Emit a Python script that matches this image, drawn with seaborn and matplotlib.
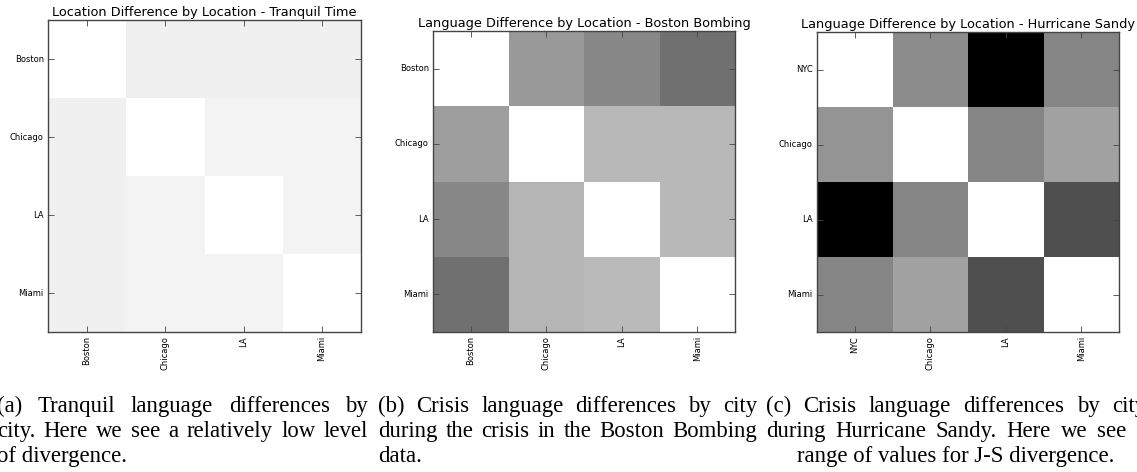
import numpy as np
import pandas as pd
import matplotlib
matplotlib.use("Agg")
import matplotlib.pyplot as plt
import seaborn as sns

# ---------------- data ----------------
cities_a = ["Boston", "Chicago", "LA", "Miami"]
cities_b = ["Boston", "Chicago", "LA", "Miami"]
cities_c = ["NYC", "Chicago", "LA", "Miami"]

tranquil = [
    [0.00, 0.06, 0.06, 0.06],
    [0.06, 0.00, 0.05, 0.05],
    [0.06, 0.05, 0.00, 0.05],
    [0.06, 0.05, 0.05, 0.00],
]
boston_bombing = [
    [0.00, 0.40, 0.47, 0.56],
    [0.38, 0.00, 0.28, 0.28],
    [0.47, 0.29, 0.00, 0.28],
    [0.56, 0.29, 0.27, 0.00],
]
hurricane_sandy = [
    [0.00, 0.45, 1.00, 0.48],
    [0.42, 0.00, 0.48, 0.37],
    [1.00, 0.48, 0.00, 0.69],
    [0.48, 0.37, 0.69, 0.00],
]

titles = [
    "Location Difference by Location - Tranquil Time",
    "Language Difference by Location - Boston Bombing",
    "Language Difference by Location - Hurricane Sandy",
]

captions = [
    ["(a)  Tranquil  language  differences  by",
     "city.  Here we see a relatively low level",
     "of divergence."],
    ["(b)  Crisis language differences by city",
     "during the crisis in the Boston Bombing",
     "data."],
    ["(c)  Crisis language differences by city",
     "during Hurricane Sandy. Here we see a",
     "range of values for J-S divergence."],
]

# ---------------- layout ----------------
W, H = 1137, 472
plt.rcParams.update({
    "font.family": "DejaVu Sans",
    "xtick.direction": "in",
    "ytick.direction": "in",
    "xtick.top": True,
    "ytick.right": True,
    "xtick.major.size": 4,
    "ytick.major.size": 4,
    "xtick.major.width": 0.6,
    "ytick.major.width": 0.6,
    "xtick.color": "#444444",
    "ytick.color": "#444444",
    "xtick.labelcolor": "black",
    "ytick.labelcolor": "black",
    "axes.edgecolor": "#444444",
    "axes.linewidth": 1.0,
})

fig = plt.figure(figsize=(W / 100, H / 100), dpi=100)

# axes boxes in pixels: (left, top, right, bottom)
boxes = [(48, 20, 361, 332), (433, 31, 735, 332), (817, 32, 1119, 332)]
datasets = [(tranquil, cities_a), (boston_bombing, cities_b), (hurricane_sandy, cities_c)]

for (l, t, r, b), (vals, labels), title in zip(boxes, datasets, titles):
    ax = fig.add_axes([l / W, 1 - b / H, (r - l) / W, (b - t) / H])
    df = pd.DataFrame(vals, index=labels, columns=labels)
    sns.heatmap(df, ax=ax, cmap="gray_r", vmin=0, vmax=1, cbar=False,
                square=False, linewidths=0)
    for side in ["left", "right", "top", "bottom"]:
        ax.spines[side].set_visible(True)
        ax.spines[side].set_color("#444444")
        ax.spines[side].set_linewidth(1.0)
    ax.tick_params(axis="both", which="major", direction="in", length=4,
                   top=True, right=True, labelsize=6, pad=3)
    ax.set_xticklabels(labels, rotation=90, fontsize=6)
    ax.set_yticklabels(labels, rotation=0, fontsize=6)
    ax.set_xlabel("")
    ax.set_ylabel("")
    ax.set_title(title, fontsize=9.3, pad=3)

# ---------------- captions (justified) ----------------
cap_font = dict(family="Liberation Serif", size=16.4)
col_bounds = [(-3, 368), (378, 757), (766, 1146)]
baselines = [412, 437, 462]
last_line_x = [-3, 378, 797]

renderer = fig.canvas.get_renderer()


def word_width(w):
    t = fig.text(0, 0, w, **cap_font)
    wd = t.get_window_extent(renderer).width
    t.remove()
    return wd


for ci, lines in enumerate(captions):
    x0, x1 = col_bounds[ci]
    for li, line in enumerate(lines):
        y = 1 - baselines[li] / H
        if li == len(lines) - 1:
            fig.text(last_line_x[ci] / W, y, line, va="baseline", ha="left", **cap_font)
            continue
        words = line.split()
        widths = [word_width(w) for w in words]
        gap = (x1 - x0 - sum(widths)) / (len(words) - 1)
        x = x0
        for w, wd in zip(words, widths):
            fig.text(x / W, y, w, va="baseline", ha="left", **cap_font)
            x += wd + gap

fig.savefig("out.png", dpi=100)
